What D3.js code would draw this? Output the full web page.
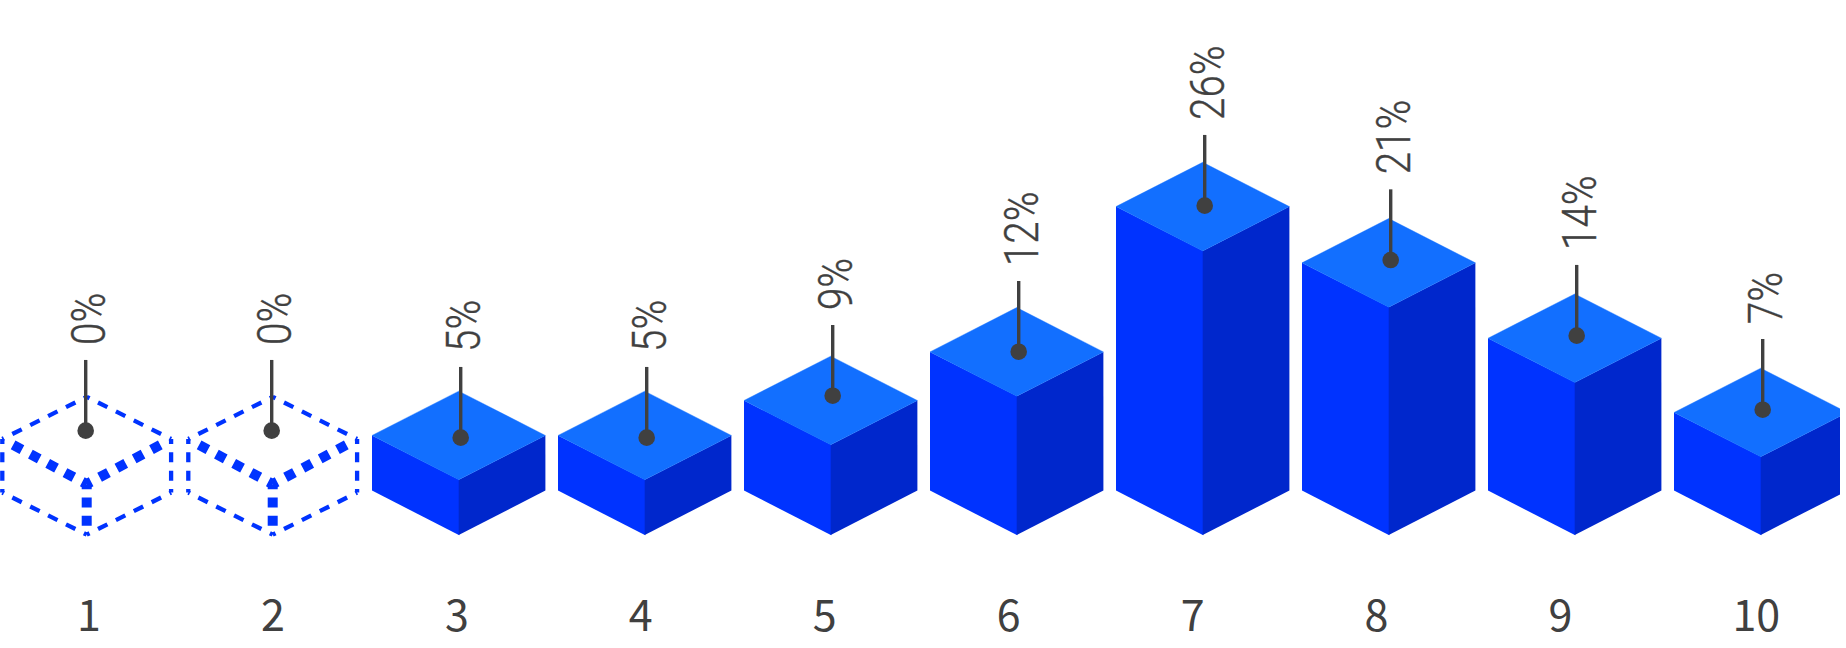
<!DOCTYPE html>
<html>
<head>
<meta charset="utf-8">
<script src="https://cdn.jsdelivr.net/npm/d3@7/dist/d3.min.js"></script>
<style>
html,body{margin:0;padding:0;background:#fff;overflow:hidden}
svg{display:block}
</style>
</head>
<body>
<svg id="chart" width="1846" height="648"></svg>
<script>
// ---- data ----
const categories = ["1","2","3","4","5","6","7","8","9","10"];
const barValues  = [0,0,5.05,5.05,8.25,12.7,26,20.85,13.95,7.15];
const percentLabels = ["0%","0%","5%","5%","9%","12%","26%","21%","14%","7%"];
const pinValues  = [9.58,9.58,8.94,8.94,12.78,16.81,30.18,25.2,18.28,11.5];
const placeholderValue = 5.05;

// ---- layout ----
const W = 1846, H = 648, clipW = 1840;
const baseY = 534.9, pinBaseY = 535.3, halfW = 86.7, halfD = 44.3;
const cTop = "#126fff", cLeft = "#0033ff", cRight = "#0027cc", cInk = "#404040";

const svg = d3.select("#chart");
svg.append("defs").append("clipPath").attr("id","plot")
  .append("rect").attr("x",0).attr("y",0).attr("width",clipW).attr("height",H);
const plot = svg.append("g").attr("clip-path","url(#plot)");

const x = d3.scalePoint().domain(categories).range([86.7,1760.7]);
const h = d3.scaleLinear().domain([0,26]).range([0,284]);
const poly = d3.line();

const rows = categories.map((c,i)=>({c, v:barValues[i], label:percentLabels[i], pin:pinValues[i]}));

// solid blocks
const solid = plot.selectAll("g.bar").data(rows.filter(d=>d.v>0)).join("g").attr("class","bar");
solid.each(function(d){
  const g = d3.select(this), cx = x(d.c), ft = baseY - h(d.v);
  const L = cx-halfW, R = cx+halfW;
  g.append("path").attr("fill",cLeft).attr("d",poly([[L,ft-halfD],[cx+0.6,ft],[cx+0.6,baseY+0.3],[L,baseY-halfD]])+"Z");
  g.append("path").attr("fill",cRight).attr("d",poly([[cx,ft],[R,ft-halfD],[R,baseY-halfD],[cx,baseY]])+"Z");
  g.append("path").attr("fill",cTop).attr("stroke",cTop).attr("stroke-width",0.4)
    .attr("d",poly([[cx,ft-2*halfD],[R,ft-halfD],[cx,ft],[L,ft-halfD]])+"Z");
});

// dashed placeholders for zero values
const ghost = plot.selectAll("g.ghost").data(rows.filter(d=>d.v===0)).join("g").attr("class","ghost");
ghost.each(function(d){
  const g = d3.select(this), cx = x(d.c);
  const ft = pinBaseY - h(placeholderValue);
  const apex = ft-2*halfD+5.3, bottom = pinBaseY-0.6, dx = 84.4, sl = dx/2;
  const mid = ft+4;
  const outer = (a,b,dash,off)=>g.append("path").attr("d",poly([a,b])).attr("fill","none")
    .attr("stroke",cLeft).attr("stroke-width",4.3).attr("stroke-dasharray",dash).attr("stroke-dashoffset",off);
  const inner = (a,b,dash,off)=>g.append("path").attr("d",poly([a,b])).attr("fill","none")
    .attr("stroke",cLeft).attr("stroke-width",10).attr("stroke-dasharray",dash).attr("stroke-dashoffset",off);
  [-1,1].forEach(s=>{
    outer([cx,apex],[cx+s*dx,apex+sl],"10.5 9.5",7.35);
    outer([cx,bottom],[cx+s*dx,bottom-sl],"10.5 9.5",7.35);
    outer([cx+s*dx,apex+sl],[cx+s*dx,bottom-sl],"10 8.3",5);
    inner([cx,mid],[cx+s*76,mid-40.5],"10 9.6",5);
  });
  inner([cx,mid],[cx,mid+43],"10 8.3",5);
});

// pins and rotated labels
const pinLen = 70.7;
const pins = plot.selectAll("g.pin").data(rows).join("g").attr("class","pin");
pins.each(function(d){
  const g = d3.select(this);
  const px = x(d.c) + (d.v===0 ? -1 : 2);
  const py = pinBaseY - h(d.pin);
  g.append("line").attr("x1",px).attr("x2",px).attr("y1",py-pinLen).attr("y2",py)
    .attr("stroke",cInk).attr("stroke-width",3.4);
  g.append("circle").attr("cx",px).attr("cy",py).attr("r",8.3).attr("fill",cInk);
  g.append("text").text(d.label)
    .attr("transform",`translate(${px+19},${py-pinLen-15}) rotate(-90) scale(0.84,1)`)
    .attr("font-family","Roboto").attr("font-weight",300).attr("font-size",48)
    .attr("stroke",cInk).attr("stroke-width",0.4).attr("fill",cInk);
});

// category axis
const xAxis = d3.scalePoint().domain(categories).range([76.5,1732]);
const ax = svg.append("g").attr("transform","translate(0,631)")
  .call(d3.axisBottom(xAxis).tickSize(0).tickPadding(0));
ax.select(".domain").remove();
ax.selectAll("text")
  .attr("text-anchor","start").attr("dy",0).attr("y",0)
  .attr("font-family","'Noto Sans CJK SC'").attr("font-weight",400)
  .attr("font-size",43).attr("fill",cInk);
</script>
</body>
</html>
